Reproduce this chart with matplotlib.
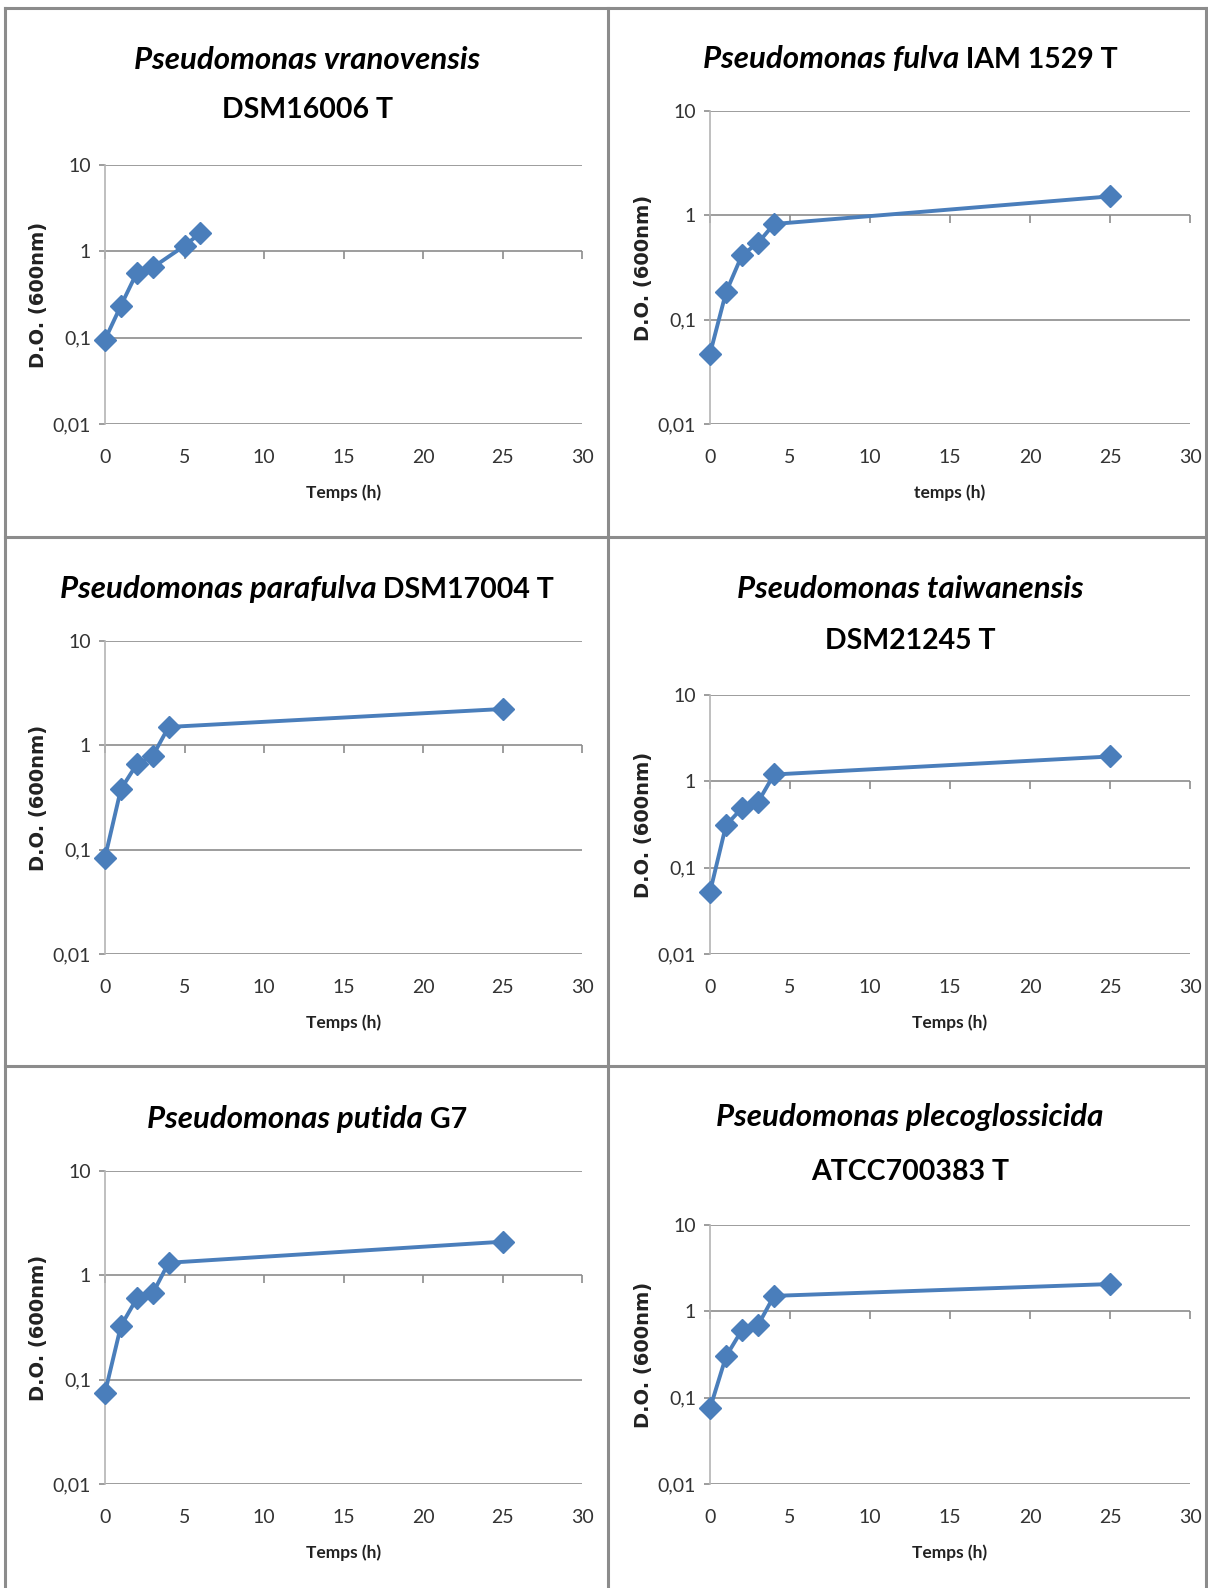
import matplotlib
matplotlib.use('Agg')
import matplotlib.pyplot as plt
from matplotlib.lines import Line2D
from matplotlib.ticker import NullLocator

W, H = 1208, 1588

# data (OD 600nm vs hours)
hours_short = [0, 1, 2, 3, 5, 6]
hours_long = [0, 1, 2, 3, 4, 25]

od_vranovensis = [0.095, 0.235, 0.565, 0.65, 1.16, 1.63]
od_fulva = [0.047, 0.183, 0.416, 0.543, 0.826, 1.52]
od_parafulva = [0.084, 0.38, 0.66, 0.79, 1.5, 2.23]
od_taiwanensis = [0.052, 0.31, 0.49, 0.575, 1.2, 1.94]
od_putida = [0.075, 0.327, 0.60, 0.67, 1.32, 2.1]
od_plecoglossicida = [0.075, 0.30, 0.61, 0.69, 1.51, 2.07]

xticks = [0, 5, 10, 15, 20, 25, 30]
yticks = [0.01, 0.1, 1, 10]
ytick_labels = ['0,01', '0,1', '1', '10']

BLUE = '#4a7ebb'
GRID = '#8c8c8c'
SPINE = '#b4b4b4'
NARROW = ['Lato', 'DejaVu Sans']

fig = plt.figure(figsize=(W / 100, H / 100), dpi=100)
renderer = fig.canvas.get_renderer()


def title_line(parts, xc, yc):
    # parts: list of (text, style); yc = vertical centre in px
    texts = []
    for s, style in parts:
        size = 22.5 if style == 'italic' else 20.5
        t = fig.text(0, 1 - (yc + 11) / H, s, fontsize=size, style=style,
                     weight='bold', family=NARROW, va='baseline', ha='left')
        texts.append(t)
    widths = [t.get_window_extent(renderer).width for t in texts]
    x = xc - sum(widths) / 2
    for t, w in zip(texts, widths):
        t.set_x(x / W)
        x += w


# (hours, od, title lines, title y's, title x, xlabel, axes box l,t,r,b)
panels = [
    (hours_short, od_vranovensis,
     [[('Pseudomonas vranovensis', 'italic')], [('DSM16006 T', 'normal')]],
     [58, 107], 307, 'Temps (h)', (105, 165, 582, 424)),
    (hours_long, od_fulva,
     [[('Pseudomonas fulva', 'italic'), (' IAM 1529 T', 'normal')]],
     [57], 910, 'temps (h)', (710, 111, 1190, 424)),
    (hours_long, od_parafulva,
     [[('Pseudomonas parafulva', 'italic'), (' DSM17004 T', 'normal')]],
     [587], 307, 'Temps (h)', (105, 641, 582, 954)),
    (hours_long, od_taiwanensis,
     [[('Pseudomonas taiwanensis', 'italic')], [('DSM21245 T', 'normal')]],
     [587, 638], 910, 'Temps (h)', (710, 695, 1190, 954)),
    (hours_long, od_putida,
     [[('Pseudomonas putida', 'italic'), (' G7', 'normal')]],
     [1117], 307, 'Temps (h)', (105, 1171, 582, 1484)),
    (hours_long, od_plecoglossicida,
     [[('Pseudomonas plecoglossicida', 'italic')], [('ATCC700383 T', 'normal')]],
     [1115, 1169], 910, 'Temps (h)', (710, 1225, 1190, 1484)),
]

for hours, od, tlines, tys, tx, xlab, (l, t, r, b) in panels:
    ax = fig.add_axes([l / W, 1 - b / H, (r - l) / W, (b - t) / H])
    ax.set_yscale('log')
    ax.plot(hours, od, color=BLUE, lw=2.8, marker='D', ms=11,
            mec=BLUE, mfc=BLUE, clip_on=False, zorder=5)
    ax.set_xlim(0, 30)
    ax.set_ylim(0.01, 10)
    ax.set_yticks(yticks)
    ax.set_yticklabels(ytick_labels)
    ax.yaxis.set_minor_locator(NullLocator())
    ax.set_xticks(xticks)
    ax.grid(axis='y', color=GRID, lw=1.2)
    ax.set_axisbelow(True)
    for s in ['top', 'right', 'bottom']:
        ax.spines[s].set_visible(False)
    ax.spines['left'].set_color(SPINE)
    ax.spines['left'].set_linewidth(1.2)
    ax.tick_params(axis='x', length=0, pad=18, labelsize=14, labelcolor='#333333')
    ax.tick_params(axis='y', length=4, width=1.2, color=GRID, pad=6,
                   labelsize=14, labelcolor='#333333')
    for lab in ax.get_xticklabels() + ax.get_yticklabels():
        lab.set_family(NARROW)

    # horizontal axis crosses at y = 1 (Excel style), ticks only
    sec = ax.secondary_xaxis(2 / 3)
    sec.set_xticks(xticks)
    sec.xaxis.set_ticks_position('bottom')
    sec.tick_params(length=6, width=1.2, color=GRID, labelbottom=False, labeltop=False)
    for sp in sec.spines.values():
        sp.set_visible(False)

    for lines_parts, ty in zip(tlines, tys):
        title_line(lines_parts, tx, ty)

    fig.text((l + r) / 2 / W, 1 - (b + 69) / H, xlab, fontsize=12.5, weight='bold',
             family=NARROW, ha='center', va='center', color='#222222')
    fig.text((l - 66) / W, 1 - (t + b) / 2 / H, 'D.O. (600nm)', fontsize=14,
             weight='bold', family='DejaVu Sans', rotation=90,
             ha='center', va='center', color='#222222')

# panel frames
frame = dict(color='#8c8c8c', lw=2.2, transform=fig.transFigure)
for y in [8, 537, 1066]:
    fig.add_artist(Line2D([5 / W, 1206 / W], [1 - y / H, 1 - y / H], **frame))
for x in [5, 608, 1206]:
    fig.add_artist(Line2D([x / W, x / W], [1 - 8 / H, 0], **frame))

fig.savefig('out.png', dpi=100)
